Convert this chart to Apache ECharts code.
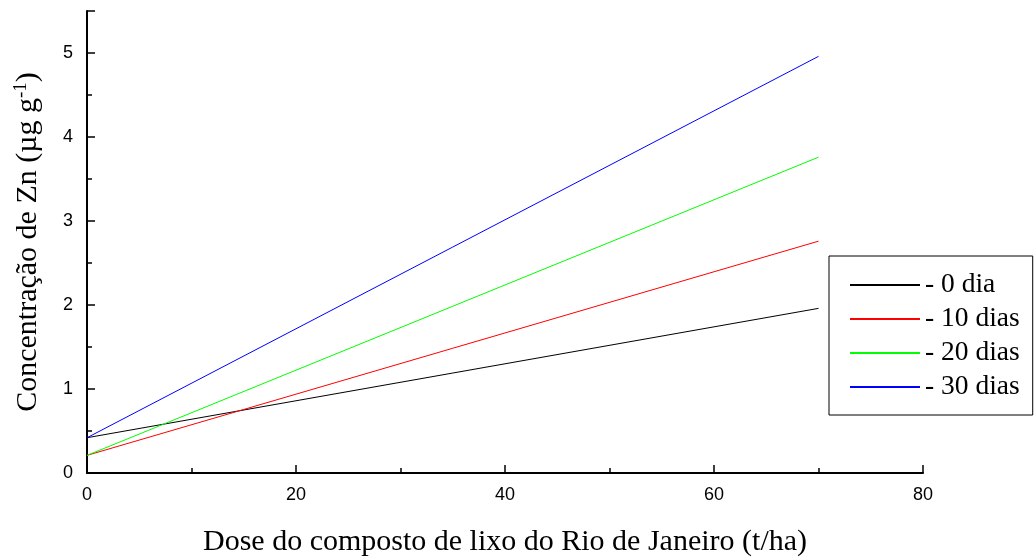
<!DOCTYPE html>
<html>
<head>
<meta charset="utf-8">
<script src="https://cdn.jsdelivr.net/npm/echarts@6/dist/echarts.min.js"></script>
<style>
  html, body { margin: 0; padding: 0; background: #fff; }
  #chart { width: 1036px; height: 557px; }
</style>
</head>
<body>
<div id="chart"></div>
<script>
// dose (t/ha) at the ends of each fitted line
const doses = [0, 70]
const seriesNames = ['- 0 dia', '- 10 dias', '- 20 dias', '- 30 dias']
const dia0 = [0.42, 1.96]
const dias10 = [0.21, 2.76]
const dias20 = [0.21, 3.76]
const dias30 = [0.42, 4.96]
const lineColors = ['#000000', '#ff0000', '#00ff00', '#0000ff']

const chart = echarts.init(document.getElementById('chart'))

const makeSeries = (name, vals, color) => ({
    name: name,
    type: 'line',
    data: doses.map((d, i) => [d, vals[i]]),
    symbol: 'none',
    lineStyle: { color: color, width: 1 },
    itemStyle: { color: color },
    animation: false,
})

const axisCommon = {
    axisLine: { show: true, lineStyle: { color: '#000', width: 2 } },
    axisTick: { show: true, inside: true, length: 8, lineStyle: { color: '#000', width: 1.5 } },
    minorTick: { show: true, splitNumber: 2, length: 5, lineStyle: { color: '#000', width: 1.5 } },
    splitLine: { show: false },
    axisLabel: { color: '#000', fontFamily: 'Liberation Sans', fontSize: 18 },
}

const option = {
    backgroundColor: '#fff',
    animation: false,
    grid: { left: 87, right: 113, top: 11, bottom: 84, outerBoundsMode: 'none', containLabel: false },
    xAxis: {
        ...axisCommon,
        type: 'value',
        min: 0,
        max: 80,
        interval: 20,
        name: 'Dose do composto de lixo do Rio de Janeiro (t/ha)',
        nameLocation: 'middle',
        nameGap: 54,
        nameTextStyle: { color: '#000', fontFamily: 'Liberation Serif', fontSize: 30 },
        axisLabel: { ...axisCommon.axisLabel, margin: 13 },
    },
    yAxis: {
        ...axisCommon,
        type: 'value',
        min: 0,
        max: 5.5,
        interval: 1,
        name: 'Concentração de Zn (µg g{sup|-1})',
        nameLocation: 'middle',
        nameGap: 42,
        nameTextStyle: {
            color: '#000', fontFamily: 'Liberation Serif', fontSize: 30,
            rich: { sup: { fontFamily: 'Liberation Serif', fontSize: 19, verticalAlign: 'top', padding: [0, 0, 14, 0] } },
        },
        axisLabel: { ...axisCommon.axisLabel, margin: 14, showMaxLabel: false },
    },
    legend: {
        orient: 'vertical',
        left: 829,
        top: 256,
        data: seriesNames,
        itemWidth: 70,
        itemHeight: 20,
        itemGap: 6,
        padding: [15, 13, 14, 20],
        borderColor: '#000',
        borderWidth: 1,
        itemStyle: { opacity: 0 },
        textStyle: { color: '#000', fontFamily: 'Liberation Serif', fontSize: 27.5, lineHeight: 27 },
    },
    series: [
        makeSeries(seriesNames[0], dia0, lineColors[0]),
        makeSeries(seriesNames[1], dias10, lineColors[1]),
        makeSeries(seriesNames[2], dias20, lineColors[2]),
        makeSeries(seriesNames[3], dias30, lineColors[3]),
    ],
}

chart.setOption(option)
</script>
</body>
</html>
